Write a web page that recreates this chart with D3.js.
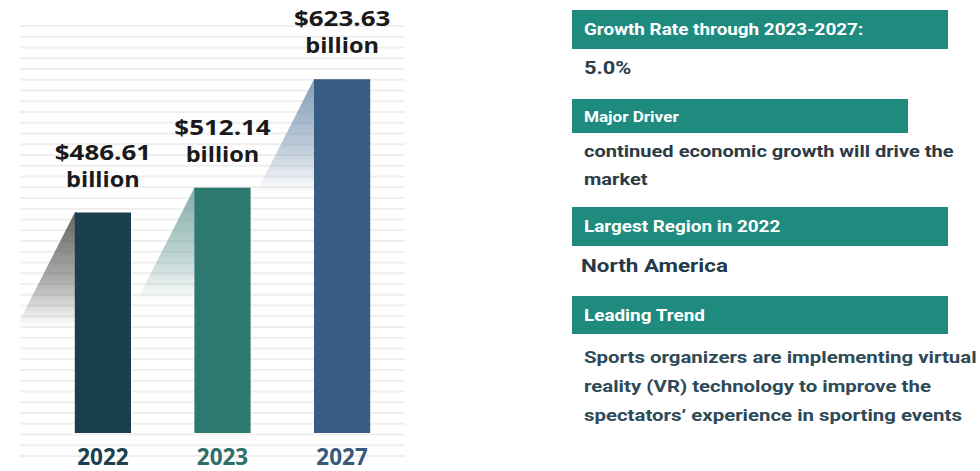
<!DOCTYPE html>
<html>
<head>
<meta charset="utf-8">
<script src="https://cdn.jsdelivr.net/npm/d3@7"></script>
<style>
  html, body { margin: 0; padding: 0; background: #ffffff; }
  svg { display: block; }
</style>
</head>
<body>
<svg id="chart" width="980" height="471"></svg>
<script>
// Market size by year (USD billion)
const years = ["2022", "2023", "2027"];
const marketSize = [486.61, 512.14, 623.63];

// Side panel: headings and their texts
const panelHeadings = [
  "Growth Rate through 2023-2027:",
  "Major Driver",
  "Largest Region in 2022",
  "Leading Trend"
];
const panelTexts = [
  ["5.0%"],
  ["continued economic growth will drive the", "market"],
  ["North America"],
  ["Sports organizers are implementing virtual",
   "reality (VR) technology to improve the",
   "spectators\u2019 experience in sporting events"]
];

const barColors = ["#19404f", "#2d796f", "#375d84"];
const shadeColors = ["#4a4a4a", "#6f9f9a", "#6f8eac"];
const yearColors = ["#1d3f4e", "#2e6f68", "#38597a"];

const svg = d3.select("#chart");
const defs = svg.append("defs");

// ---- striped backdrop ----
const stripeY = d3.range(26, 458, 10.75);
svg.append("g").selectAll("line").data(stripeY).join("line")
  .attr("x1", 20).attr("x2", 405)
  .attr("y1", d => d).attr("y2", d => d)
  .attr("stroke", "#efefef").attr("stroke-width", 2);

// ---- scales ----
const baseY = 433;
const x = d3.scaleBand().domain(years).range([15, 430])
  .paddingInner(0.53).paddingOuter(0.5);
const y = d3.scaleLinear().domain([260, 630]).range([baseY, 73]);

const data = years.map((yr, i) => ({ year: yr, value: marketSize[i], i }));
const cx = d => x(d.year) + x.bandwidth() / 2;

// ---- fading ramps behind each bar ----
data.forEach(d => {
  const g = defs.append("linearGradient")
    .attr("id", "shade" + d.i)
    .attr("x1", 0).attr("y1", 0).attr("x2", 0).attr("y2", 1);
  g.append("stop").attr("offset", 0).attr("stop-color", shadeColors[d.i]).attr("stop-opacity", 0.85);
  g.append("stop").attr("offset", 0.6).attr("stop-color", shadeColors[d.i]).attr("stop-opacity", 0.45);
  g.append("stop").attr("offset", 1).attr("stop-color", shadeColors[d.i]).attr("stop-opacity", 0);
});

const rampDx = 58, rampDy = 114;
svg.append("g").selectAll("path").data(data).join("path")
  .attr("d", d => {
    const x0 = x(d.year), t = y(d.value);
    return `M${x0},${t} L${x0 + 2},${t} L${x0 + 2},${t + rampDy} L${x0 - rampDx},${t + rampDy} Z`;
  })
  .attr("fill", d => `url(#shade${d.i})`);

// ---- bars ----
svg.append("g").selectAll("rect").data(data).join("rect")
  .attr("x", d => x(d.year))
  .attr("y", d => y(d.value))
  .attr("width", x.bandwidth())
  .attr("height", d => baseY - y(d.value))
  .attr("fill", d => barColors[d.i]);

// ---- value labels (two lines above each bar) ----
const fmt = d3.format(".2f");
const labelG = svg.append("g")
  .attr("font-family", "'Open Sans', sans-serif")
  .attr("font-weight", 700)
  .attr("font-size", 22)
  .attr("fill", "#1a1a1a")
  .attr("text-anchor", "middle");
labelG.selectAll("text.val").data(data).join("text")
  .attr("class", "val")
  .attr("transform", d => `translate(${cx(d)},${y(d.value) - 53}) scale(1.18,1)`)
  .text(d => "$" + fmt(d.value));
labelG.selectAll("text.unit").data(data).join("text")
  .attr("class", "unit")
  .attr("transform", d => `translate(${cx(d)},${y(d.value) - 26}) scale(1.07,1)`)
  .text("billion");

// ---- year labels ----
svg.append("g").selectAll("text").data(data).join("text")
  .attr("x", cx)
  .attr("y", 465)
  .attr("text-anchor", "middle")
  .attr("font-family", "'Open Sans', sans-serif")
  .attr("font-weight", 700)
  .attr("font-size", 22.5)
  .attr("fill", d => yearColors[d.i])
  .text(d => d.year);

// ---- side panel ----
const panel = svg.append("g").attr("font-family", "Roboto, sans-serif").attr("font-weight", 700);
const sx = 1.18;
const boxTop = [10, 99, 207, 296];
const boxW = [376, 336, 376, 376];
const boxH = [39, 34, 39, 38];
const headSize = [16, 14.5, 16, 16];
const textTop = [74, 157, 272, 363];
const bodySize = [18.5, 17, 19, 17.3];
const lineGap = [28, 28, 28, 29.2];
const bodyColor = ["#2c3e4a", "#2c3b45", "#243a4a", "#2e4a57"];

panelHeadings.forEach((h, i) => {
  panel.append("rect")
    .attr("x", 572).attr("y", boxTop[i])
    .attr("width", boxW[i]).attr("height", boxH[i])
    .attr("fill", "#1f8b7e");
  panel.append("text")
    .attr("transform", `translate(584,${boxTop[i] + boxH[i] / 2 + 5.5}) scale(${sx},1)`)
    .attr("font-size", headSize[i])
    .attr("fill", "#ffffff")
    .text(h);
  const bx = i === 2 ? 581 : 584;
  panel.append("text")
    .attr("transform", `translate(${bx},${textTop[i]}) scale(${sx},1)`)
    .attr("font-size", bodySize[i])
    .attr("fill", bodyColor[i])
    .selectAll("tspan").data(panelTexts[i]).join("tspan")
    .attr("x", 0)
    .attr("y", (d, k) => k * lineGap[i])
    .text(d => d);
});
</script>
</body>
</html>
